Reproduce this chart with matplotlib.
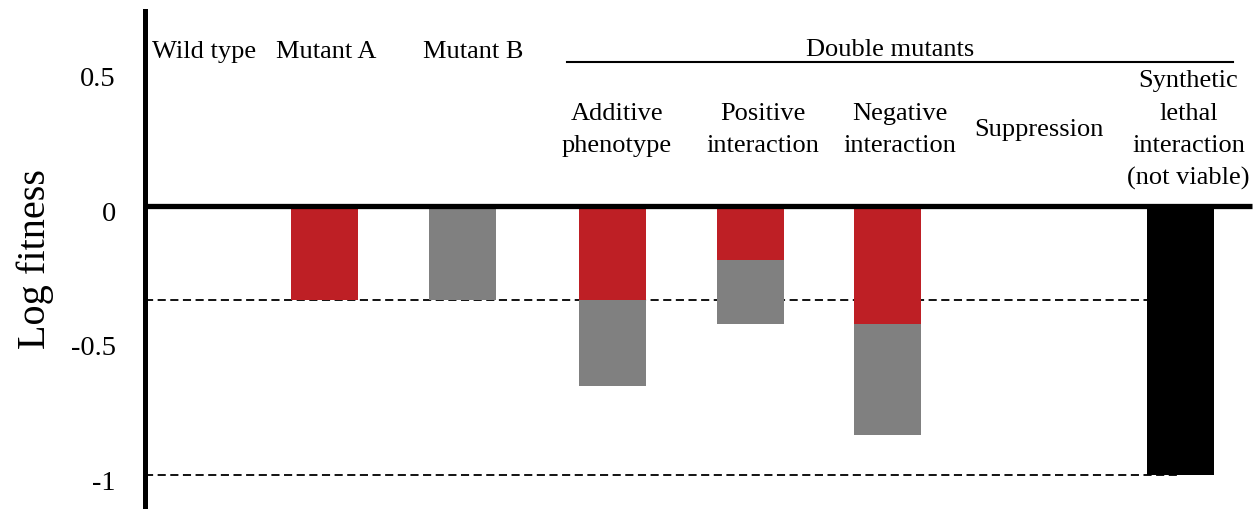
import matplotlib.pyplot as plt
from matplotlib.transforms import ScaledTranslation

plt.rcParams["font.family"] = ["Liberation Serif", "DejaVu Serif"]

# categories (left to right)
categories = ["Wild type", "Mutant A", "Mutant B", "Additive\nphenotype",
              "Positive\ninteraction", "Negative\ninteraction", "Suppression",
              "Synthetic\nlethal\ninteraction\n(not viable)"]
# log fitness effect of mutation A, of mutation B, and of a lethal combination
effect_a = [0, -0.35, 0, -0.35, -0.20, -0.44, 0, 0]
effect_b = [0, 0, -0.35, -0.32, -0.24, -0.41, 0, 0]
lethal = [0, 0, 0, 0, 0, 0, 0, -1.0]
ref_levels = [-0.35, -1.0]
ytick_vals = [0.5, 0, -0.5, -1]
ytick_labels = ["0.5", "0", "-0.5", "-1"]

# layout
xpos = [0.13, 1, 2, 3.09, 4.09, 5.08, 6.18, 7.2]
label_x = [0.13, 1.01, 2.08, 3.12, 4.18, 5.17, 6.18, 7.26]
width = 0.485
red = "#be1f25"
grey = "#808080"

fig = plt.figure(figsize=(12.57, 5.10), dpi=100)
ax = fig.add_axes([145 / 1257, 0, 1 - 145 / 1257, 1 - 12 / 510])
ax.set_xlim(-0.30, 7.757)
ax.set_ylim(-1.126, 0.725)

# dashed reference levels, behind the bars
for lvl in ref_levels:
    ax.plot([-0.30, 7.2], [lvl, lvl], color="black", lw=1.3,
            linestyle=(0, (4.5, 2.5)), zorder=1)

ax.bar(xpos, effect_a, width=width, color=red, zorder=2)
ax.bar(xpos, effect_b, width=width, bottom=effect_a, color=grey, zorder=2)
ax.bar(xpos, lethal, width=width, color="black", zorder=2)

# zero line
ax.plot([-0.30, 7.72], [0, 0], color="black", lw=3.8, zorder=3, solid_capstyle="butt")

# labels above the bars
for i in range(3):
    ax.text(label_x[i], 0.575, categories[i], ha="center", va="center", fontsize=19)
for i in range(3, len(categories)):
    ax.text(label_x[i], 0.285, categories[i], ha="center", va="center",
            fontsize=19, linespacing=1.6)
ax.text(5.10, 0.585, "Double mutants", ha="center", va="center", fontsize=19)
ax.plot([2.757, 7.58], [0.535, 0.535], color="black", lw=1.5)

ax.set_yticks(ytick_vals)
ax.set_yticklabels(ytick_labels, fontsize=20.5)
ax.tick_params(axis="y", length=0, pad=21)
for lab in ax.get_yticklabels():
    lab.set_transform(lab.get_transform() + ScaledTranslation(0, -4 / 100, fig.dpi_scale_trans))
ax.set_xticks([])
ax.set_ylabel("Log fitness", fontsize=29)
ax.yaxis.set_label_coords((54 - 145) / 1112, 0.505)

for side in ["top", "right", "bottom"]:
    ax.spines[side].set_visible(False)
ax.spines["left"].set_linewidth(3.6)

fig.savefig("out.png", dpi=100)
